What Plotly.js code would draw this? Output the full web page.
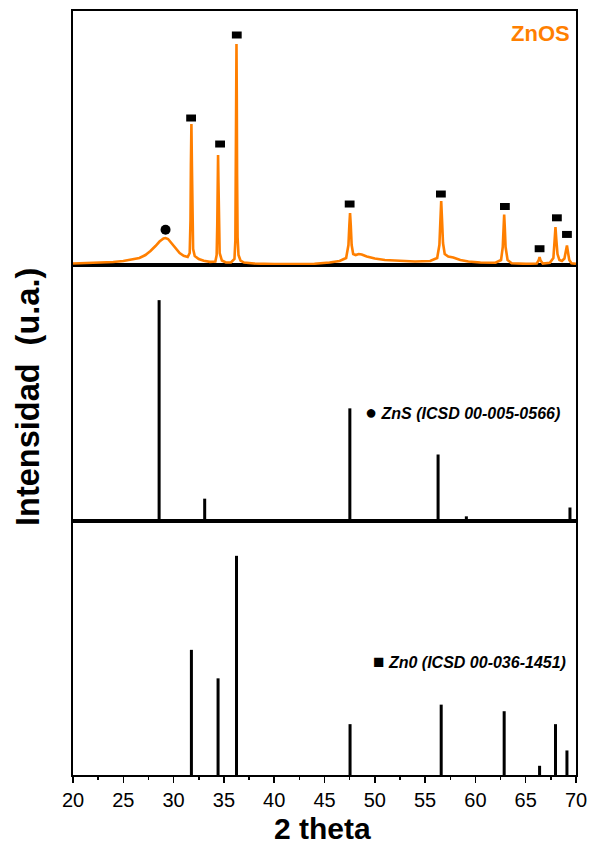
<!DOCTYPE html>
<html>
<head>
<meta charset="utf-8">
<script src="https://cdn.plot.ly/plotly-3.0.1.min.js"></script>
<style>html,body{margin:0;padding:0;background:#fff;}#chart{width:590px;height:847px;}</style>
</head>
<body>
<div id="chart"></div>
<script>
// ZnOS measured pattern (2 theta, intensity)
const znosX = [20,21,22,23,24,25,25.8,26.6,27.2,27.7,28.2,28.6,29.0,29.2,29.45,29.8,30.2,30.6,31.0,31.4,
  31.6,31.68,31.72,31.77,31.82,31.86,31.94,32.1,32.5,33.0,33.6,34.15,34.28,34.34,34.38,34.42,34.46,34.5,34.58,34.8,
  35.2,35.7,36.05,36.14,36.19,36.22,36.25,36.28,36.31,36.36,36.45,36.65,37.0,38,40,42,44,45.5,46.5,47.15,
  47.38,47.47,47.54,47.61,47.7,47.85,48.1,48.4,48.7,49.2,50,51,52.5,54,55.5,56.2,56.42,56.52,56.6,56.68,
  56.78,56.95,57.3,57.8,58.5,59.3,60.5,62.0,62.55,62.72,62.8,62.86,62.92,63.0,63.2,63.6,65.0,66.1,66.28,66.38,
  66.48,66.7,67.4,67.75,67.87,67.96,68.04,68.16,68.35,68.6,68.85,68.98,69.1,69.2,69.33,69.55,70];
const znosY = [1.5,1.7,2.0,2.4,3.0,4.0,5.2,7.0,10.0,14.0,19.0,23.5,26.5,27.0,26.0,21.5,16.0,12.0,9.2,8.0,
  12,45,100,141,100,45,16,9,6,4.2,3.2,3.5,10,40,82,110,82,40,12,4.5,
  2.6,2.6,6,25,90,170,221,170,90,28,10,4.5,2.5,1.5,1.0,1.0,1.3,2.5,4.0,7,
  20,40,52,40,20,11,10,11,10.5,8.5,6.5,5.0,4.0,3.5,4.0,7.0,20,45,64,46,
  22,11,8.5,7.5,5,3.5,2.5,2.3,5,18,38,50.5,38,18,5,1.8,1.2,1.5,4.5,8,
  4.5,1.5,2.2,7,24,38,26,11,5,4,6.5,13,19.6,13,5,1.8,1.2];

// Phase markers above the peaks
const znoMarkX = [31.74,34.62,36.28,47.5,56.57,62.93,66.38,68.1,69.1];
const znoMarkY = [147,121,230,61,71,58.5,16.3,47.2,30.6];
const znsMarkX = [29.2];
const znsMarkY = [35.2];

// ZnS reference (ICSD 00-005-0566)
const znsRefX = [28.56,33.09,47.52,56.29,59.1,69.4];
const znsRefI = [100,10.1,51,30.1,2.1,6.1];

// ZnO reference (ICSD 00-036-1451)
const znoRefX = [31.77,34.42,36.25,47.54,56.6,62.86,66.38,67.96,69.1];
const znoRefI = [57.1,44.1,100,23.2,32.1,29.1,4.2,23.2,11.2];

const xTicks = [20,25,30,35,40,45,50,55,60,65,70];

const ORANGE = '#ff7f00';
const FONT = 'Liberation Sans, Arial, Helvetica, sans-serif';

const traces = [
  {x: znosX, y: znosY, type:'scatter', mode:'lines', xaxis:'x3', yaxis:'y3',
   line:{color:ORANGE, width:2.6}, hoverinfo:'skip'},
  {x: znoMarkX, y: znoMarkY, type:'scatter', mode:'markers', xaxis:'x3', yaxis:'y3',
   marker:{symbol:'line-ew', size:7, color:'#000', line:{color:'#000', width:7}}},
  {x: znsMarkX, y: znsMarkY, type:'scatter', mode:'markers', xaxis:'x3', yaxis:'y3',
   marker:{symbol:'circle', size:10, color:'#000'}},
  {x: znsRefX, y: znsRefI, type:'bar', xaxis:'x2', yaxis:'y2', width:0.3,
   marker:{color:'#000', line:{width:0}}},
  {x: znoRefX, y: znoRefI, type:'bar', xaxis:'x', yaxis:'y', width:0.3,
   marker:{color:'#000', line:{width:0}}}
];

const baseX = {range:[20,70], showline:true, mirror:true, linecolor:'#000', linewidth:1.6,
  showgrid:false, zeroline:false, fixedrange:true};
const baseY = {showline:true, mirror:true, linecolor:'#000', linewidth:1.6, showgrid:false,
  zeroline:false, showticklabels:false, ticks:'', fixedrange:true};

const layout = {
  width:590, height:847,
  margin:{l:73, r:14, t:11, b:72, pad:0},
  paper_bgcolor:'#fff', plot_bgcolor:'#fff',
  showlegend:false,
  font:{family:FONT, color:'#000'},
  xaxis: Object.assign({}, baseX, {anchor:'y', domain:[0,1], ticks:'outside', ticklen:6, tickwidth:1.5,
    tickcolor:'#000', tickmode:'array', tickvals:xTicks, ticktext:xTicks.map(String),
    tickfont:{size:20, family:FONT, color:'#000'},
    minor:{ticks:'outside', ticklen:3, tickwidth:1.5, tickcolor:'#000', dtick:2.5, tick0:20, showgrid:false}}),
  xaxis2: Object.assign({}, baseX, {anchor:'y2', matches:'x', showticklabels:false, ticks:''}),
  xaxis3: Object.assign({}, baseX, {anchor:'y3', matches:'x', showticklabels:false, ticks:''}),
  yaxis: Object.assign({}, baseY, {domain:[0, 0.3325], range:[0,115.9]}),
  yaxis2: Object.assign({}, baseY, {domain:[0.3325, 0.6675], range:[0,115.9]}),
  yaxis3: Object.assign({}, baseY, {domain:[0.6675, 1], range:[0,254]}),
  annotations: [
    {text:'<b>ZnOS</b>', xref:'x3', yref:'y3', x:69.6, y:232, xanchor:'right', yanchor:'middle',
     showarrow:false, font:{size:22, color:ORANGE, family:FONT}},
    {text:'<span style="font-size:20px">●</span> <b><i>ZnS (ICSD 00-005-0566)</i></b>', xref:'x2', yref:'y2', x:48.8, y:49.3,
     xanchor:'left', yanchor:'middle', showarrow:false, font:{size:16, color:'#000', family:FONT}},
    {text:'<span style="font-size:19px">■</span> <b><i>Zn0 (ICSD 00-036-1451)</i></b>', xref:'x', yref:'y', x:49.6, y:52.0,
     xanchor:'left', yanchor:'middle', showarrow:false, font:{size:16, color:'#000', family:FONT}},
    {text:'<b>2 theta</b>', xref:'paper', yref:'paper', x:0.497, y:-0.0705, xanchor:'center', yanchor:'middle',
     showarrow:false, font:{size:30, color:'#000', family:FONT}},
    {text:'<b>Intensidad  (u.a.)</b>', xref:'paper', yref:'paper', x:-0.0895, y:0.4948, xanchor:'center',
     yanchor:'middle', textangle:-90, showarrow:false, font:{size:32.5, color:'#000', family:FONT}}
  ]
};

Plotly.newPlot('chart', traces, layout, {displayModeBar:false, staticPlot:true});
</script>
</body>
</html>
